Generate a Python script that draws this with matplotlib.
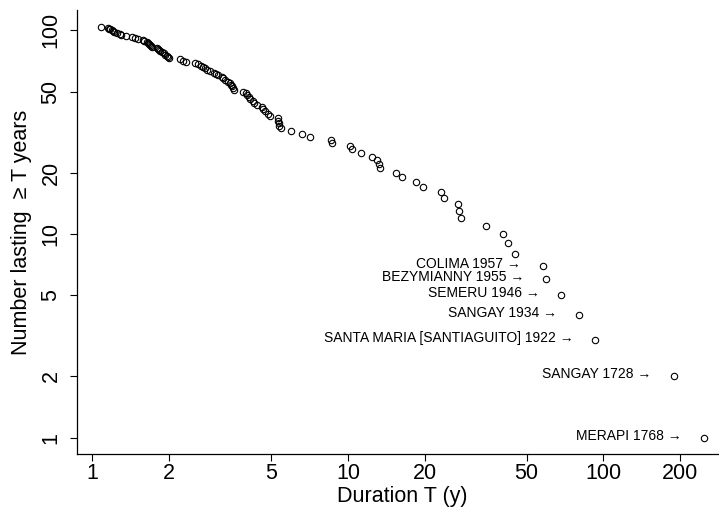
import matplotlib
matplotlib.use("Agg")
import matplotlib.pyplot as plt
import numpy as np

plt.rcParams['font.family'] = ['Liberation Sans', 'DejaVu Sans']

# Durations (years) of eruptions, sorted from longest to shortest
durations = [
    247, 188, 93, 80, 68.5, 59.5, 58, 45, 42.4, 40.3,
    34.7, 27.7, 27.2, 27.0, 23.8, 23.1, 19.7, 18.5, 16.3, 15.4,
    13.4, 13.2, 13.0, 12.4, 11.3, 10.4, 10.2, 8.7, 8.6, 7.1,
    6.6, 6.0, 5.46, 5.40, 5.37, 5.35, 5.34, 4.96, 4.86, 4.74,
    4.64, 4.60, 4.40, 4.30, 4.27, 4.14, 4.10, 4.02, 3.98, 3.90,
    3.60, 3.56, 3.53, 3.50, 3.45, 3.40, 3.32, 3.26, 3.21, 3.10,
    3.05, 3.00, 2.90, 2.80, 2.76, 2.70, 2.66, 2.60, 2.52, 2.33,
    2.27, 2.20, 2.00, 1.98, 1.96, 1.93, 1.90, 1.87, 1.84, 1.83,
    1.81, 1.79, 1.72, 1.70, 1.68, 1.66, 1.65, 1.63, 1.60, 1.58,
    1.51, 1.47, 1.43, 1.36, 1.30, 1.28, 1.25, 1.22, 1.20, 1.19,
    1.17, 1.16, 1.15, 1.08,
]
# Number of eruptions lasting >= T
counts = list(range(1, len(durations) + 1))

labels = [
    "MERAPI 1768",
    "SANGAY 1728",
    "SANTA MARIA [SANTIAGUITO] 1922",
    "SANGAY 1934",
    "SEMERU 1946",
    "BEZYMIANNY 1955",
    "COLIMA 1957",
]

xticks = [1, 2, 5, 10, 20, 50, 100, 200]
yticks = [1, 2, 5, 10, 20, 50, 100]

W, H = 719, 512
fig = plt.figure(figsize=(W / 100, H / 100), dpi=100)
left, right, top, bottom = 76.7, 727.0, 10.3, 454.3
ax = fig.add_axes([left / W, (H - bottom) / H, (right - left) / W, (bottom - top) / H])
ax.set_xscale('log')
ax.set_yscale('log')
ax.set_xlim(10 ** -0.0610, 10 ** 2.4832)
ax.set_ylim(10 ** -0.0815, 10 ** 2.098)

ax.plot(durations, counts, linestyle='none', marker='o', markersize=4.6,
        markerfacecolor='none', markeredgecolor='black', markeredgewidth=0.8)

for i, lab in enumerate(labels):
    ax.annotate(lab + " \u2192", xy=(durations[i], counts[i]), xytext=(-22, 2),
                textcoords='offset pixels', ha='right', va='center', fontsize=10)

ax.spines['top'].set_visible(False)
ax.spines['right'].set_visible(False)
for s in ['left', 'bottom']:
    ax.spines[s].set_linewidth(0.9)

ax.minorticks_off()
ax.set_xticks(xticks)
ax.set_xticklabels([str(t) for t in xticks])
ax.set_yticks(yticks)
ax.set_yticklabels([str(t) for t in yticks], rotation=90, va='center')
ax.tick_params(axis='both', length=5, width=0.8, labelsize=15.5)
ax.tick_params(axis='x', pad=1.5)
ax.tick_params(axis='y', pad=6)

ax.set_xlabel("Duration T (y)", fontsize=15.5, labelpad=1)
ax.set_ylabel("Number lasting  \u2265 T years", fontsize=15.5, labelpad=6)

fig.savefig("out.png", dpi=100)
